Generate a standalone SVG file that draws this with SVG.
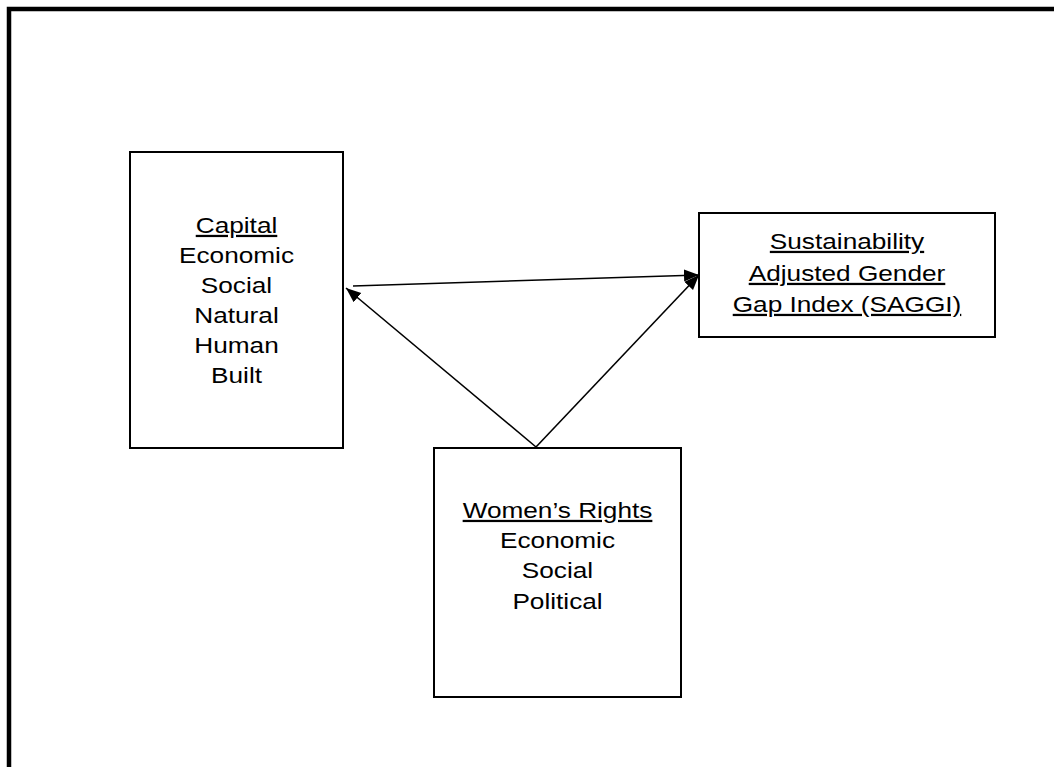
<svg xmlns="http://www.w3.org/2000/svg" width="1054" height="767" viewBox="0 0 1054 767">
  <style>
    .box { fill: #ffffff; stroke: #000000; stroke-width: 2; }
    .lbl { font-family: "Liberation Sans", Arial, sans-serif; font-size: 22.5px; fill: #000000; text-anchor: middle; }
    .u { text-decoration: underline; }
    .conn { stroke: #000000; stroke-width: 1.6; fill: none; marker-end: url(#arrow); }
  </style>
  <defs>
    <marker id="arrow" markerUnits="userSpaceOnUse" markerWidth="18" markerHeight="14" refX="15" refY="6" orient="auto">
      <path d="M0,0 L15,6 L0,12 Z" fill="#000000"/>
    </marker>
  </defs>
  <rect x="0" y="0" width="1054" height="767" fill="#ffffff"/>
  <rect id="frame" x="9" y="9" width="1100" height="820" fill="none" stroke="#000000" stroke-width="4.5"/>

  <g id="capital">
    <rect class="box" x="130" y="152" width="213" height="296"/>
    <g transform="translate(236.5 0) scale(1.165 1)">
      <text class="lbl" x="0" y="233"><tspan class="u">Capital</tspan></text>
      <text class="lbl" x="0" y="263">Economic</text>
      <text class="lbl" x="0" y="293">Social</text>
      <text class="lbl" x="0" y="323">Natural</text>
      <text class="lbl" x="0" y="353">Human</text>
      <text class="lbl" x="0" y="383">Built</text>
    </g>
  </g>

  <g id="saggi">
    <rect class="box" x="699" y="213" width="296" height="124"/>
    <g transform="translate(847 0) scale(1.165 1)">
      <text class="lbl u" x="0" y="249">Sustainability</text>
      <text class="lbl u" x="0" y="281">Adjusted Gender</text>
      <text class="lbl u" x="0" y="312">Gap Index (SAGGI)</text>
    </g>
  </g>

  <g id="womens-rights">
    <rect class="box" x="434" y="448" width="247" height="249"/>
    <g transform="translate(557.5 0) scale(1.165 1)">
      <text class="lbl" x="0" y="518"><tspan class="u">Women’s Rights</tspan></text>
      <text class="lbl" x="0" y="548">Economic</text>
      <text class="lbl" x="0" y="578">Social</text>
      <text class="lbl" x="0" y="609">Political</text>
    </g>
  </g>

  <g id="connectors">
    <line class="conn" x1="353" y1="286" x2="699" y2="275"/>
    <line class="conn" x1="536" y1="447" x2="346" y2="288"/>
    <line class="conn" x1="536" y1="447" x2="699" y2="275"/>
  </g>
</svg>
